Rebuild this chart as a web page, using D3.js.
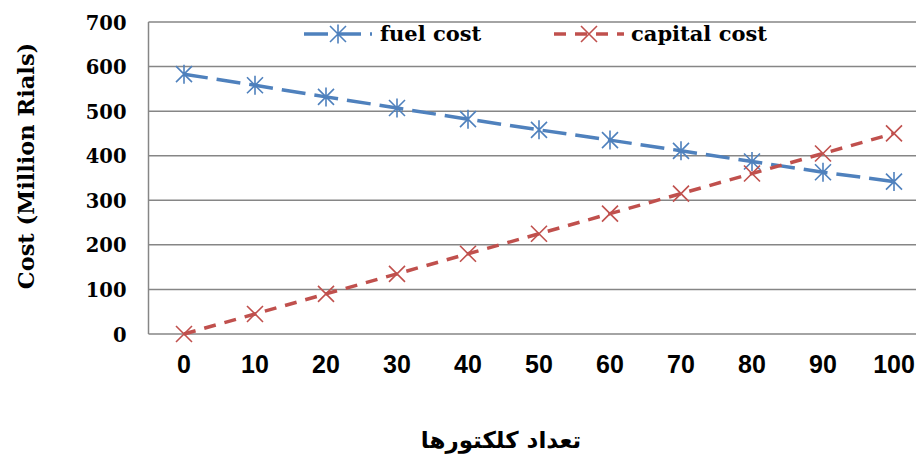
<!DOCTYPE html>
<html><head><meta charset="utf-8">
<script src="https://cdn.jsdelivr.net/npm/d3@7/dist/d3.min.js"></script>
<style>html,body{margin:0;padding:0;background:#fff;overflow:hidden}</style>
</head><body>
<svg id="c" width="916" height="456"></svg>
<script>
const categories = ["0","10","20","30","40","50","60","70","80","90","100"];
const fuelCost = [583, 558, 532, 507, 482, 458, 435, 411, 387, 363, 342];
const capitalCost = [0, 45, 90, 135, 180, 225, 270, 315, 360, 405, 450];
const yTicks = [0,100,200,300,400,500,600,700];
const seriesNames = ["fuel cost","capital cost"];
const xTitle = "تعداد کلکتورها";
const yTitle = "Cost (Million Rials)";

const W=916,H=456;
const svg=d3.select("#c");
const left=148.5, step=71;
const x=d3.scaleBand().domain(categories).range([left,left+step*categories.length]).padding(0);
const y=d3.scaleLinear().domain([0,700]).range([334,22]);
const xc=d=>x(d)+x.bandwidth()/2;

// gridlines
svg.append("g").selectAll("line").data(yTicks).join("line")
  .attr("x1",left).attr("x2",W).attr("y1",d=>y(d)).attr("y2",d=>y(d))
  .attr("stroke","#868686").attr("stroke-width",1.5);
svg.append("line").attr("x1",left).attr("x2",left).attr("y1",y(700)).attr("y2",y(0))
  .attr("stroke","#868686").attr("stroke-width",1.5);

// y tick labels
const yAxis=d3.axisLeft(y).tickValues(yTicks).tickSize(0).tickPadding(0);
const ya=svg.append("g").attr("transform",`translate(${left-22},0)`).call(yAxis);
ya.select(".domain").remove();
ya.selectAll("text").attr("font-family","DejaVu Serif").attr("font-weight","bold")
  .attr("font-size",19.5).attr("fill","#000").attr("dy","0.36em");

// x tick labels
const xAxis=d3.axisBottom(x).tickSize(0).tickPadding(0);
const xa=svg.append("g").attr("transform",`translate(0,364)`).call(xAxis);
xa.select(".domain").remove();
xa.selectAll("text").attr("font-family","Liberation Sans").attr("font-weight","bold")
  .attr("font-size",25).attr("fill","#000").attr("dy","0.36em");

const blue="#4F81BD", red="#C0504D";
const line=d3.line().x((d,i)=>xc(categories[i])).y(d=>y(d));

svg.append("path").datum(fuelCost).attr("d",line).attr("fill","none")
  .attr("stroke",blue).attr("stroke-width",3.5).attr("stroke-dasharray","24,9");
svg.append("path").datum(capitalCost).attr("d",line).attr("fill","none")
  .attr("stroke",red).attr("stroke-width",3.5).attr("stroke-dasharray","12,9");

function star(g,cx,cy,col){
  const r=8;
  g.append("path").attr("d",`M${cx-r},${cy-r}L${cx+r},${cy+r}M${cx-r},${cy+r}L${cx+r},${cy-r}M${cx},${cy-r-1.5}L${cx},${cy+r+1.5}`)
   .attr("stroke",col).attr("stroke-width",1.6).attr("fill","none");
}
function cross(g,cx,cy,col){
  const r=8;
  g.append("path").attr("d",`M${cx-r},${cy-r}L${cx+r},${cy+r}M${cx-r},${cy+r}L${cx+r},${cy-r}`)
   .attr("stroke",col).attr("stroke-width",1.6).attr("fill","none");
}
const mg=svg.append("g");
fuelCost.forEach((v,i)=>star(mg,xc(categories[i]),y(v),blue));
capitalCost.forEach((v,i)=>cross(mg,xc(categories[i]),y(v),red));

// legend
const lg=svg.append("g");
const ly=34;
lg.append("line").attr("x1",304).attr("x2",372).attr("y1",ly).attr("y2",ly)
  .attr("stroke",blue).attr("stroke-width",3.5).attr("stroke-dasharray","24,9");
star(lg,338,ly,blue);
lg.append("text").attr("x",380).attr("y",ly).attr("dy","0.35em").text(seriesNames[0])
  .attr("font-family","DejaVu Serif").attr("font-weight","bold").attr("font-size",21);
lg.append("line").attr("x1",554).attr("x2",624).attr("y1",ly).attr("y2",ly)
  .attr("stroke",red).attr("stroke-width",3.5).attr("stroke-dasharray","12,9");
cross(lg,589,ly,red);
lg.append("text").attr("x",631).attr("y",ly).attr("dy","0.35em").text(seriesNames[1])
  .attr("font-family","DejaVu Serif").attr("font-weight","bold").attr("font-size",21);

// axis titles
svg.append("text").attr("transform","translate(26,166) rotate(-90)").attr("text-anchor","middle")
  .attr("dy","0.35em").text(yTitle).attr("font-family","DejaVu Serif").attr("font-weight","bold").attr("font-size",22.5);
svg.append("text").attr("x",501).attr("y",440).attr("text-anchor","middle").attr("dy","0.35em")
  .attr("direction","rtl").text(xTitle).attr("font-family","DejaVu Sans").attr("font-weight","bold").attr("font-size",23);
</script>
</body></html>
